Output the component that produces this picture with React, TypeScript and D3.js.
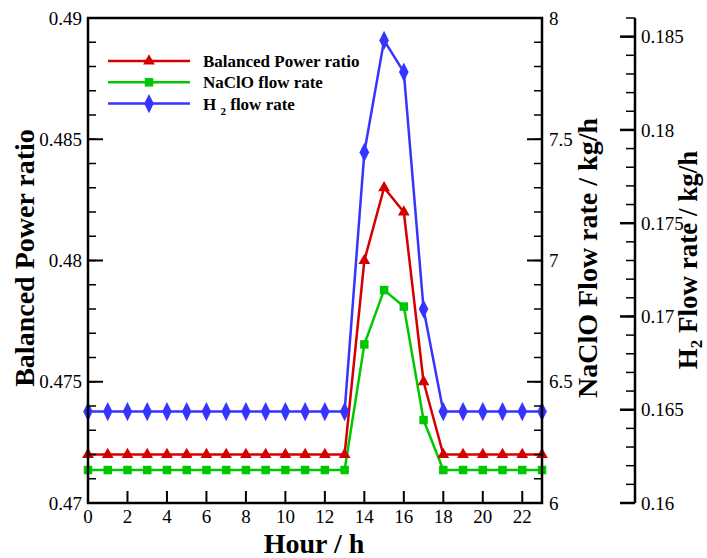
import React from "react";
import * as d3 from "d3";

const hours = [0, 1, 2, 3, 4, 5, 6, 7, 8, 9, 10, 11, 12, 13, 14, 15, 16, 17, 18, 19, 20, 21, 22, 23];
const balancedRatio = [0.472, 0.472, 0.472, 0.472, 0.472, 0.472, 0.472, 0.472, 0.472, 0.472, 0.472, 0.472, 0.472, 0.472, 0.480, 0.4830, 0.482, 0.475, 0.472, 0.472, 0.472, 0.472, 0.472, 0.472];
const naclo = [6.136, 6.136, 6.136, 6.136, 6.136, 6.136, 6.136, 6.136, 6.136, 6.136, 6.136, 6.136, 6.136, 6.136, 6.654, 6.878, 6.81, 6.342, 6.136, 6.136, 6.136, 6.136, 6.136, 6.136];
const h2 = [0.1649, 0.1649, 0.1649, 0.1649, 0.1649, 0.1649, 0.1649, 0.1649, 0.1649, 0.1649, 0.1649, 0.1649, 0.1649, 0.1649, 0.1788, 0.1848, 0.1831, 0.1704, 0.1649, 0.1649, 0.1649, 0.1649, 0.1649, 0.1649];

const xTicks = [0, 2, 4, 6, 8, 10, 12, 14, 16, 18, 20, 22];
const leftTicks = [0.47, 0.475, 0.48, 0.485, 0.49];
const leftLabels = ["0.47", "0.475", "0.48", "0.485", "0.49"];
const rightTicks = [6, 6.5, 7, 7.5, 8];
const rightLabels = ["6", "6.5", "7", "7.5", "8"];
const h2Ticks = [0.16, 0.165, 0.17, 0.175, 0.18, 0.185];
const h2Labels = ["0.16", "0.165", "0.17", "0.175", "0.18", "0.185"];

const RED = "#d40000";
const GREEN = "#00c800";
const BLUE = "#3535ff";
const FONT = "Liberation Serif, Tinos, Times New Roman, DejaVu Serif, serif";

const L = 88, R = 542, T = 18, B = 503;
const AX3 = 635;

export default function App() {
  const x = d3.scaleLinear().domain([0, 23]).range([L, R]);
  const yL = d3.scaleLinear().domain([0.47, 0.49]).range([B, T]);
  const yR = d3.scaleLinear().domain([6, 8]).range([B, T]);
  const yH = d3.scaleLinear().domain([0.16, 0.186]).range([B, T]);

  const line = (ys: number[], sc: d3.ScaleLinear<number, number>) =>
    d3.line<number>().x((_, i) => x(hours[i])).y((d) => sc(d))(ys) || "";

  const tri = d3.symbol().type(d3.symbolTriangle).size(60)() || "";
  const sq = d3.symbol().type(d3.symbolSquare).size(72)() || "";
  const dia = d3.symbol().type(d3.symbolDiamond).size(80)() || "";

  const leftMinor = yL.ticks(20);
  const rightMinor = yR.ticks(20);
  const h2Minor = yH.ticks(26).filter((v) => v <= 0.1861);

  const legend = [
    { label: "Balanced Power ratio", color: RED, sym: tri, sub: false },
    { label: "NaClO flow rate", color: GREEN, sym: sq, sub: false },
    { label: "H2", color: BLUE, sym: dia, sub: true },
  ];

  return (
    <svg width={707} height={558} style={{ position: "absolute", left: 0, top: 0, background: "#fff", fontFamily: FONT }}>
      {/* data lines */}
      <g fill="none" strokeWidth={2.5} strokeLinejoin="round">
        <path d={line(h2, yH)} stroke={BLUE} />
        <path d={line(balancedRatio, yL)} stroke={RED} />
        <path d={line(naclo, yR)} stroke={GREEN} />
      </g>
      <g>
        {h2.map((v, i) => (
          <path key={"h" + i} d={dia} transform={`translate(${x(hours[i])},${yH(v)}) scale(1,1.15)`} fill={BLUE} />
        ))}
        {balancedRatio.map((v, i) => (
          <path key={"b" + i} d={tri} transform={`translate(${x(hours[i])},${yL(v)})`} fill={RED} />
        ))}
        {naclo.map((v, i) => (
          <path key={"n" + i} d={sq} transform={`translate(${x(hours[i])},${yR(v)})`} fill={GREEN} />
        ))}
      </g>

      {/* frame */}
      <rect x={L} y={T} width={R - L} height={B - T} fill="none" stroke="#000" strokeWidth={2.5} />

      {/* ticks */}
      <g stroke="#000" strokeWidth={1.5}>
        {leftMinor.map((v, i) => (
          <line key={"lm" + i} x1={L} x2={L + 8} y1={yL(v)} y2={yL(v)} />
        ))}
        {leftTicks.map((v, i) => (
          <line key={"lM" + i} x1={L} x2={L + 15} y1={yL(v)} y2={yL(v)} strokeWidth={2} />
        ))}
        {rightMinor.map((v, i) => (
          <line key={"rm" + i} x1={R} x2={R - 8} y1={yR(v)} y2={yR(v)} />
        ))}
        {rightTicks.map((v, i) => (
          <line key={"rM" + i} x1={R} x2={R - 15} y1={yR(v)} y2={yR(v)} strokeWidth={2} />
        ))}
        {xTicks.map((v, i) => (
          <line key={"x" + i} x1={x(v)} x2={x(v)} y1={B} y2={B - 12} strokeWidth={2} />
        ))}
        {/* third axis */}
        <line x1={AX3} x2={AX3} y1={T} y2={B} strokeWidth={2.5} />
        {h2Minor.map((v, i) => (
          <line key={"hm" + i} x1={AX3} x2={AX3 - 9} y1={yH(v)} y2={yH(v)} />
        ))}
        {h2Ticks.map((v, i) => (
          <line key={"hM" + i} x1={AX3} x2={AX3 - 15} y1={yH(v)} y2={yH(v)} strokeWidth={2.5} />
        ))}
      </g>

      {/* tick labels */}
      <g fontSize={19} fill="#000">
        {leftTicks.map((v, i) => (
          <text key={"ll" + i} x={82} y={yL(v)} dy="0.35em" textAnchor="end">{leftLabels[i]}</text>
        ))}
        {rightTicks.map((v, i) => (
          <text key={"rl" + i} x={549} y={yR(v)} dy="0.35em">{rightLabels[i]}</text>
        ))}
        {h2Ticks.map((v, i) => (
          <text key={"hl" + i} x={641} y={yH(v)} dy="0.35em">{h2Labels[i]}</text>
        ))}
        {xTicks.map((v, i) => (
          <text key={"xl" + i} x={x(v)} y={523} textAnchor="middle">{String(v)}</text>
        ))}
      </g>

      {/* axis titles */}
      <g fontWeight="bold" fontSize={28} fill="#000">
        <text x={314} y={553} textAnchor="middle">Hour / h</text>
        <text transform={`translate(34,258) rotate(-90)`} textAnchor="middle">Balanced Power ratio</text>
        <text transform={`translate(597,258) rotate(-90)`} textAnchor="middle">NaClO Flow rate / kg/h</text>
        <text transform={`translate(697,260) rotate(-90)`} textAnchor="middle" fontSize={27}>
          H<tspan fontSize={17} dy={5}>2</tspan><tspan dy={-5}> Flow rate / kg/h</tspan>
        </text>
      </g>

      {/* legend */}
      <g>
        {legend.map((d, i) => {
          const yy = 61 + i * 21.3;
          return (
            <g key={"lg" + i}>
              <line x1={108} x2={190} y1={yy} y2={yy} stroke={d.color} strokeWidth={2.5} />
              <path d={d.sym} transform={`translate(149,${yy})${d.sym === dia ? " scale(1,1.15)" : ""}`} fill={d.color} />
              <text x={203} y={yy} dy="0.35em" fontSize={17} fontWeight="bold" fill="#000">
                {d.sub ? (
                  <>
                    H <tspan fontSize={11} dy={5}>2</tspan><tspan dy={-5}> flow rate</tspan>
                  </>
                ) : (
                  d.label
                )}
              </text>
            </g>
          );
        })}
      </g>
    </svg>
  );
}
